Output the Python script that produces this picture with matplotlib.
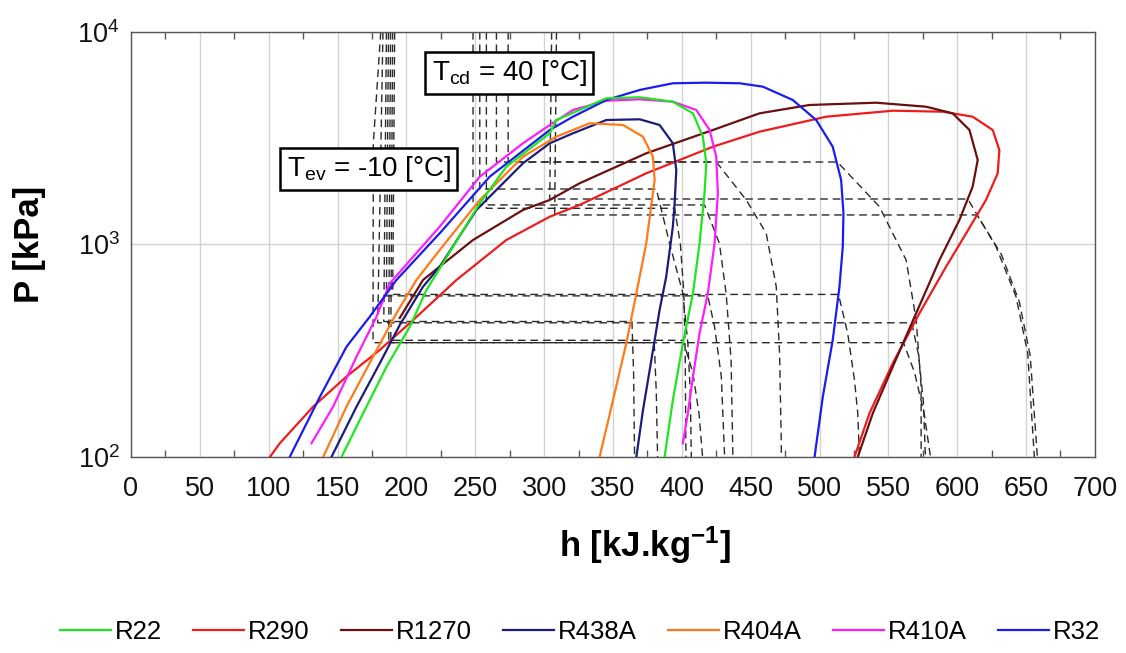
import matplotlib
matplotlib.use('Agg')
import matplotlib.pyplot as plt
from matplotlib.ticker import NullLocator, FixedLocator

# saturation domes (h in kJ/kg, P in kPa)
r22_h = [152.9, 168.6, 185.6, 202.5, 214.6, 253.3, 272.6, 304.1, 308.9, 345.2, 369.4, 393.5,
         408.1, 415.3, 417.8, 416.5, 412.9, 408.1, 400.8, 393.5, 387.5]
r22_p = [100, 160.6, 266, 410, 611, 1563, 2323, 3337, 3853, 4875, 4928, 4699,
         4143, 3216, 2411, 1741, 1013, 589, 343, 185, 100]

r290_h = [100.9, 108.1, 132.3, 156.5, 180.7, 204.9, 236.4, 272.6, 304.1, 325.8, 374.2, 422.6,
          456.5, 504.9, 553.2, 589.5, 611.2, 625.8, 630.6, 629.4, 620.9, 606.5, 591.9, 572.6,
          553.2, 536.3, 525.4]
r290_p = [100, 116, 172.5, 239, 319, 441, 681, 1050, 1351, 1535, 2163, 2885,
          3395, 3994, 4262, 4216, 3994, 3458, 2784, 2163, 1620, 1129, 786, 475,
          276, 160.6, 100]

r1270_h = [195.2, 212.1, 248.4, 284.7, 304.1, 325.8, 374.2, 422.6, 456.5, 492.7, 541.1, 577.4,
           596.7, 608.9, 614.9, 611.2, 601.6, 587.1, 570.2, 553.2, 538.7, 527.8]
r1270_p = [451, 681, 1050, 1454, 1620, 1941, 2687, 3458, 4143, 4534, 4648, 4450,
           4143, 3458, 2498, 1871, 1304, 845, 475, 266, 160.6, 100]

r438a_h = [145.6, 163.8, 180.7, 195.2, 212.1, 224.2, 250.9, 284.7, 304.1, 321.0, 345.2, 369.4,
           383.9, 393.5, 396.0, 394.8, 393.5, 388.7, 383.9, 377.9, 371.8, 367.0]
r438a_p = [100, 172.5, 276, 418, 633, 786, 1454, 2411, 2994, 3337, 3853, 3883,
           3650, 2994, 2242, 1563, 1213, 706, 492, 286, 166, 100]

r404a_h = [139.6, 156.5, 175.8, 192.8, 207.3, 224.2, 253.3, 284.7, 308.9, 333.1, 357.3, 371.8,
           379.0, 380.3, 379.0, 374.2, 367.0, 359.7, 351.2, 340.3]
r404a_p = [100, 172.5, 296.5, 475, 681, 942, 1620, 2590, 3216, 3719, 3650, 3216,
           2590, 2011, 1741, 1013, 589, 343, 199, 100]

r410a_h = [131.1, 146.8, 163.8, 178.3, 188.0, 224.2, 253.3, 284.7, 304.1, 321.0, 345.2, 369.4,
           393.5, 410.5, 420.2, 425.0, 426.2, 423.8, 418.9, 412.9, 408.1, 404.4, 400.8]
r410a_p = [116, 172.5, 296.5, 457, 657, 1213, 2085, 2994, 3650, 4295, 4750, 4823,
           4699, 4295, 3458, 2590, 1741, 1013, 589, 382, 239, 160.6, 116]

r32_h = [115.4, 137.2, 156.5, 173.4, 192.8, 224.2, 260.5, 304.1, 321.0, 345.2, 369.4, 393.5,
         417.8, 442.0, 458.9, 480.6, 497.6, 509.6, 515.7, 517.4, 516.9, 514.5, 509.6, 502.4, 496.4]
r32_p = [100.3, 192, 330, 457, 681, 1129, 2085, 3458, 3994, 4786, 5335, 5737,
         5774, 5737, 5529, 4786, 3853, 2885, 2011, 1402, 976, 633, 355, 192, 100]

# isotherms T = -10 C (tev) and T = 40 C (tcd) for each refrigerant
r22_tev_h = [188.5, 187.2, 400.8, 408.0, 412.5, 415.1]
r22_tev_p = [10000, 354, 354, 250, 160, 100]
r22_tcd_h = [248.4, 248.4, 416.5, 427.3, 432.2, 435.8, 437.1]
r22_tcd_p = [10000, 1535, 1535, 1013, 589, 286, 100]
r290_tev_h = [181.4, 176.0, 175.8, 561.0, 569.0, 576.0, 580.6]
r290_tev_p = [10000, 3000, 345, 345, 250, 160, 100]
r290_tcd_h = [309.0, 307.7, 614.4, 632.0, 645.0, 653.0, 658.2]
r290_tcd_p = [10000, 1377, 1377, 900, 540, 300, 100]
r1270_tev_h = [183.0, 179.2, 567.0, 572.0, 575.5, 576.9]
r1270_tev_p = [10000, 428, 428, 300, 180, 100]
r1270_tcd_h = [305.5, 304.1, 607.7, 628.2, 642.7, 651.2, 656.0]
r1270_tcd_p = [10000, 1637, 1637, 976, 568, 308, 100]
r438a_tev_h = [190.0, 188.7, 380.0, 381.5, 382.4]
r438a_tev_p = [10000, 345, 345, 200, 100]
r438a_tcd_h = [258.1, 258.1, 394.8, 399.0, 401.5, 402.5, 403.0]
r438a_tcd_p = [10000, 1480, 1480, 1000, 589, 300, 100]
r404a_tev_h = [185.5, 183.6, 363.8, 365.0, 365.7]
r404a_tev_p = [10000, 434, 434, 250, 100]
r404a_tcd_h = [253.3, 253.3, 381.5, 391.1, 400.8, 404.4, 406.2, 406.9]
r404a_tcd_p = [10000, 1824, 1824, 1013, 589, 343, 199, 100]
r410a_tev_h = [187.0, 185.5, 418.9, 423.8, 428.7, 431.1]
r410a_tev_p = [10000, 573, 573, 410, 239, 100]
r410a_tcd_h = [265.4, 265.4, 425.1, 446.8, 461.3, 468.6, 471.0, 472.2, 472.3]
r410a_tcd_p = [10000, 2444, 2444, 1620, 1129, 633, 308, 120, 100]
r32_tev_h = [191.5, 190.1, 513.8, 520.5, 525.4, 527.8, 529.0]
r32_tev_p = [10000, 582, 582, 381, 230, 160, 100]
r32_tcd_h = [273.9, 273.9, 513.0, 543.5, 562.9, 570.2, 573.8, 573.8]
r32_tcd_p = [10000, 2444, 2444, 1507, 845, 441, 214, 100]

names = ['R22', 'R290', 'R1270', 'R438A', 'R404A', 'R410A', 'R32']
colors = ['#1ee61e', '#ee1c1c', '#6a1010', '#1c1c7c', '#ff7a1a', '#ff1cff', '#1c1cee']

domes = [(r22_h, r22_p), (r290_h, r290_p), (r1270_h, r1270_p), (r438a_h, r438a_p),
         (r404a_h, r404a_p), (r410a_h, r410a_p), (r32_h, r32_p)]
isotherms = [(r22_tev_h, r22_tev_p), (r22_tcd_h, r22_tcd_p),
             (r290_tev_h, r290_tev_p), (r290_tcd_h, r290_tcd_p),
             (r1270_tev_h, r1270_tev_p), (r1270_tcd_h, r1270_tcd_p),
             (r438a_tev_h, r438a_tev_p), (r438a_tcd_h, r438a_tcd_p),
             (r404a_tev_h, r404a_tev_p), (r404a_tcd_h, r404a_tcd_p),
             (r410a_tev_h, r410a_tev_p), (r410a_tcd_h, r410a_tcd_p),
             (r32_tev_h, r32_tev_p), (r32_tcd_h, r32_tcd_p)]

plt.rcParams['font.family'] = ['Liberation Sans', 'DejaVu Sans']
plt.rcParams['mathtext.default'] = 'regular'

fig = plt.figure(figsize=(11.26, 6.53), dpi=100)
ax = fig.add_axes([0.1163, 0.3002, 0.8561, 0.6508])

for h, p in isotherms:
    ax.plot(h, p, color='#2a2a2a', lw=1.0, ls=(0, (5.5, 3.5)), zorder=2)

zs = [6, 3, 3, 4, 4, 5, 5]
handles = []
for (h, p), c, nm, z in zip(domes, colors, names, zs):
    ln, = ax.plot(h, p, color=c, lw=1.6, label=nm, zorder=z)
    handles.append(ln)

ax.set_yscale('log')
ax.set_xlim(0, 700)
ax.set_ylim(100, 10000)
ax.set_xticks(range(0, 701, 50))
ax.xaxis.set_minor_locator(FixedLocator(range(25, 700, 50)))
ax.yaxis.set_major_locator(FixedLocator([100, 1000, 10000]))
ax.yaxis.set_minor_locator(NullLocator())
ax.grid(which='major', color='#d2d2d2', lw=1.0)
ax.set_axisbelow(True)
ax.tick_params(which='major', length=0, labelsize=19.5, colors='#111111')
ax.tick_params(axis='x', which='major', pad=14)
ax.tick_params(axis='y', which='major', pad=8)
ax.tick_params(axis='x', which='minor', direction='in', top=True, bottom=True,
               length=5, width=1, color='#555555')
for s in ax.spines.values():
    s.set_color('#555555')
    s.set_linewidth(1.0)

ax.set_xlabel('h [kJ.kg$^{-1}$]', fontsize=25, fontweight='bold')
ax.set_ylabel('P [kPa]', fontsize=25, fontweight='bold')
ax.xaxis.set_label_coords(0.533, -0.16)
ax.yaxis.set_label_coords(-0.088, 0.5)

box = dict(boxstyle='square,pad=0.22', fc='white', ec='black', lw=1.8)
ax.text(274.7, 6412, 'T$_{cd}$ = 40 [°C]', fontsize=20, ha='center', va='center',
        bbox=box, zorder=10)
ax.text(172.7, 2265, 'T$_{ev}$ = -10 [°C]', fontsize=20, ha='center', va='center',
        bbox=box, zorder=10)

fig.legend(handles=handles, loc='center', bbox_to_anchor=(0.515, 1 - 632 / 653), ncol=7,
           frameon=False, fontsize=18.5, handlelength=2.0, handletextpad=0.15,
           columnspacing=1.2)

fig.savefig('out.png', dpi=100)
